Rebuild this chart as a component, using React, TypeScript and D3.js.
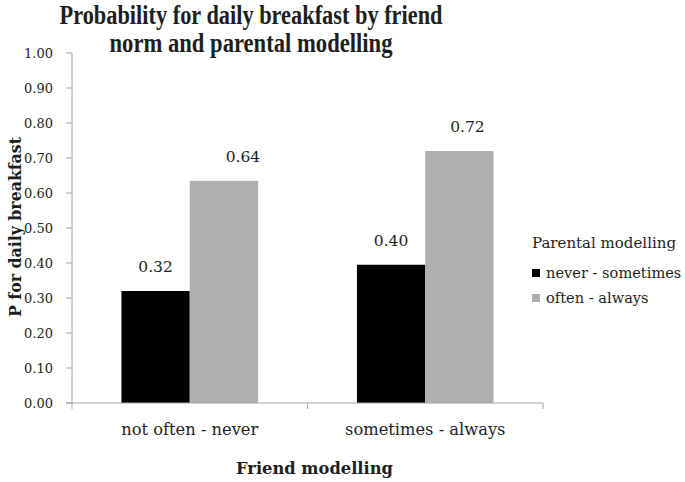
import React from 'react';
import * as d3 from 'd3';

// chart data
const categories = ['not often - never', 'sometimes - always'];
const seriesNames = ['never - sometimes', 'often - always'];
const neverSometimes = [0.32, 0.395];
const oftenAlways = [0.635, 0.72];
const yTicks = [0, 0.1, 0.2, 0.3, 0.4, 0.5, 0.6, 0.7, 0.8, 0.9, 1.0];

const colors = ['#000000', '#b0b0b0'];
const labelNudge = [[0, 0], [19, 8]]; // label shifts by series, per category

const W = 685;
const H = 482;
const margin = { top: 53, right: 142, bottom: 79, left: 72 };
const FONT = "'DejaVu Serif', serif";

const App = () => {
  const innerRight = W - margin.right;
  const innerBottom = H - margin.bottom;

  const x0 = d3.scaleBand()
    .domain(categories)
    .range([margin.left, innerRight])
    .paddingInner(0.42)
    .paddingOuter(0.21);

  const x1 = d3.scaleBand()
    .domain(seriesNames)
    .range([0, x0.bandwidth()]);

  const y = d3.scaleLinear()
    .domain([0, 1])
    .range([innerBottom, margin.top]);

  const series = [neverSometimes, oftenAlways];
  const axisColor = '#a6a6a6';
  const textColor = '#1e1e1e';

  // tick marks between categories on the x axis
  const step = (innerRight - margin.left) / categories.length;
  const xTickPos = d3.range(categories.length + 1).map(i => margin.left + i * step);

  return (
    <svg width={W} height={H} style={{ position: 'absolute', left: 0, top: 0, background: '#fff' }}>
      {/* title */}
      <text x={251} y={24} textAnchor="middle" fontFamily="'Liberation Serif', serif" fontWeight="bold"
        fontSize={28} fill={textColor} textLength={383} lengthAdjust="spacingAndGlyphs">
        Probability for daily breakfast by friend
      </text>
      <text x={251} y={52} textAnchor="middle" fontFamily="'Liberation Serif', serif" fontWeight="bold"
        fontSize={28} fill={textColor} textLength={283} lengthAdjust="spacingAndGlyphs">
        norm and parental modelling
      </text>

      {/* y axis */}
      <line x1={margin.left} x2={margin.left} y1={margin.top} y2={innerBottom} stroke={axisColor} />
      {yTicks.map(t => (
        <g key={t}>
          <line x1={margin.left - 6} x2={margin.left} y1={y(t)} y2={y(t)} stroke={axisColor} />
          <text x={53} y={y(t)} dy="0.35em" textAnchor="end" fontFamily={FONT} fontSize={13} fill={textColor}>
            {d3.format('.2f')(t)}
          </text>
        </g>
      ))}
      <text transform={`translate(${21},${227}) rotate(-90)`} textAnchor="middle" fontFamily={FONT}
        fontWeight="bold" fontSize={16} fill={textColor} textLength={180} lengthAdjust="spacingAndGlyphs">
        P for daily breakfast
      </text>

      {/* bars */}
      {categories.map((c, ci) => (
        <g key={c} transform={`translate(${x0(c)},0)`}>
          {series.map((vals, si) => {
            const v = vals[ci];
            const bx = x1(seriesNames[si]) as number;
            return (
              <g key={si}>
                <rect x={bx} y={y(v)} width={x1.bandwidth()} height={innerBottom - y(v)} fill={colors[si]} />
                <text x={bx + x1.bandwidth() / 2 + labelNudge[si][ci]} y={y(v) - 19} textAnchor="middle"
                  fontFamily={FONT} fontSize={15.5} fill={textColor}>
                  {v.toFixed(2)}
                </text>
              </g>
            );
          })}
        </g>
      ))}

      {/* x axis */}
      <line x1={margin.left - 6} x2={innerRight} y1={innerBottom} y2={innerBottom} stroke={axisColor} />
      {xTickPos.map((p, i) => (
        <line key={i} x1={p} x2={p} y1={innerBottom} y2={innerBottom + 6} stroke={axisColor} />
      ))}
      {categories.map(c => (
        <text key={c} x={(x0(c) as number) + x0.bandwidth() / 2} y={435} textAnchor="middle"
          fontFamily={FONT} fontSize={16.3} fill={textColor}>
          {c}
        </text>
      ))}
      <text x={(margin.left + innerRight) / 2 + 7} y={474} textAnchor="middle" fontFamily={FONT}
        fontWeight="bold" fontSize={16.3} fill={textColor}>
        Friend modelling
      </text>

      {/* legend */}
      <text x={532} y={248} fontFamily={FONT} fontSize={15} fill={textColor}>Parental modelling</text>
      {seriesNames.map((s, i) => (
        <g key={s} transform={`translate(532,${269 + i * 25})`}>
          <rect x={0} y={0} width={8} height={8} fill={colors[i]} />
          <text x={14} y={9} fontFamily={FONT} fontSize={14.6} fill={textColor}>{s}</text>
        </g>
      ))}
    </svg>
  );
};

export default App;
